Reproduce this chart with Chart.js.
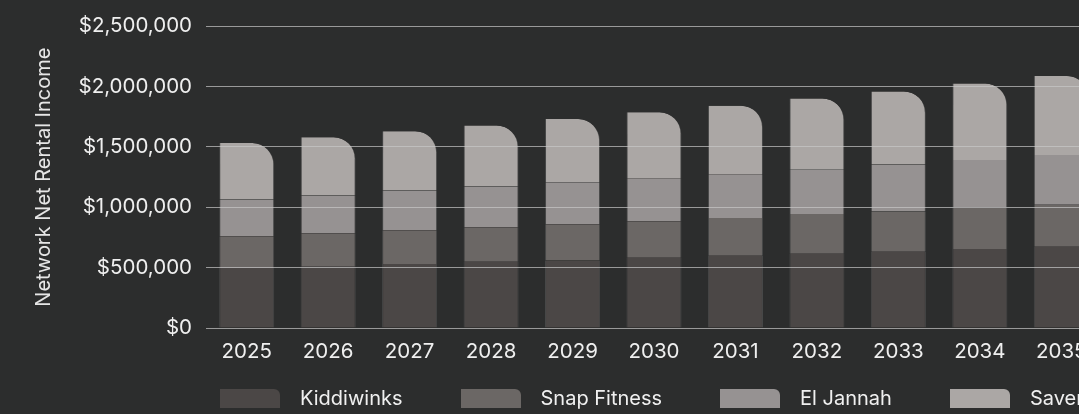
<!DOCTYPE html>
<html>
<head>
<meta charset="utf-8">
<script src="https://cdn.jsdelivr.net/npm/chart.js@4.4.1/dist/chart.umd.min.js"></script>
<style>
  html, body { margin: 0; padding: 0; background: #2c2d2d; overflow: hidden; }
  .wrap { position: relative; width: 1112px; height: 414px; }
  .legend { position: absolute; left: 220px; top: 389px; display: flex; align-items: center; line-height: 19px;
            font-family: Inter, "Liberation Sans", sans-serif; font-size: 20px; color: #f0f0f0; }
  .legend .item { display: flex; align-items: center; margin-right: 58px; white-space: nowrap; }
  .legend .box { width: 60px; height: 19px; margin-right: 20px; border-top-right-radius: 6px; }
</style>
</head>
<body>
<div class="wrap">
  <canvas id="incomeChart"></canvas>
  <div class="legend" id="legend"></div>
</div>
<script>
// Data
const years = ['2025', '2026', '2027', '2028', '2029', '2030', '2031', '2032', '2033', '2034', '2035'];
const kiddiwinks = [498000, 508000, 531000, 548000, 560000, 583000, 599000, 616000, 631000, 654000, 673000];
const snapFitness = [263000, 278000, 280000, 287000, 300000, 302000, 312000, 328000, 335000, 345000, 348000];
const elJannah = [304000, 312000, 328000, 337000, 347000, 352000, 359000, 367000, 388000, 394000, 413000];
const savers = [468000, 482000, 492000, 506000, 525000, 550000, 572000, 591000, 606000, 632000, 655000];
const tenants = ['Kiddiwinks', 'Snap Fitness', 'El Jannah', 'Savers'];
const colors = ['#4b4746', '#6b6765', '#969292', '#aba7a5'];
const yTicks = [0, 500000, 1000000, 1500000, 2000000, 2500000];

const series = [kiddiwinks, snapFitness, elJannah, savers];
const font = "Inter, 'Liberation Sans', sans-serif";

const datasets = series.map((values, i) => ({
  label: tenants[i],
  data: values,
  backgroundColor: colors[i],
  borderColor: 'rgba(255,255,255,0.13)',
  borderWidth: { left: 1, right: 1, top: 0, bottom: 0 },
  borderSkipped: false,
  borderRadius: i === series.length - 1 ? { topRight: 22 } : 0,
  barPercentage: 0.845,
  categoryPercentage: 0.8
}));

new Chart(document.getElementById('incomeChart'), {
  type: 'bar',
  data: { labels: years, datasets },
  options: {
    responsive: true,
    maintainAspectRatio: false,
    animation: false,
    layout: { padding: { top: 23, right: 10, bottom: 41, left: 0 } },
    plugins: {
      legend: { display: false },
      tooltip: { enabled: false }
    },
    scales: {
      x: {
        stacked: true,
        grid: { display: false },
        border: { display: false },
        ticks: { color: '#efefef', padding: 4, font: { family: font, size: 20.5 } },
        afterFit: (scale) => { scale.height = 45; }
      },
      y: {
        stacked: true,
        min: 0,
        max: 2500000,
        afterBuildTicks: (scale) => { scale.ticks = yTicks.map(v => ({ value: v })); },
        grid: { color: 'rgba(200,200,200,0.7)', lineWidth: 1, drawTicks: false, z: 1 },
        border: { display: false },
        ticks: {
          color: '#efefef',
          padding: 14,
          font: { family: font, size: 20.5 },
          callback: (v) => '$' + Number(v).toLocaleString('en-US')
        },
        title: {
          display: true,
          text: 'Network Net Rental Income',
          color: '#e6e6e6',
          font: { family: font, size: 20 },
          padding: { top: 32, bottom: 0 }
        },
        afterFit: (scale) => { scale.width = 206; }
      }
    }
  }
});

// Legend under the chart
const legend = document.getElementById('legend');
tenants.forEach((name, i) => {
  const item = document.createElement('div');
  item.className = 'item';
  item.innerHTML = '<span class="box" style="background:' + colors[i] + '"></span><span>' + name + '</span>';
  legend.appendChild(item);
});
</script>
</body>
</html>
